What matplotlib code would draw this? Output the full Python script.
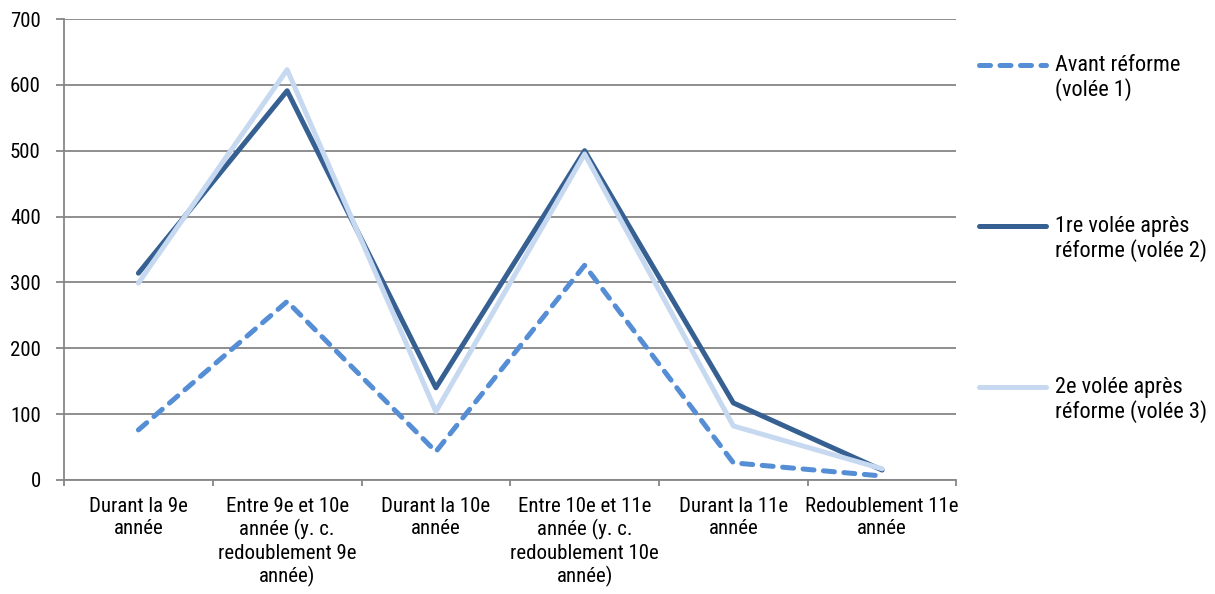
import numpy as np
import matplotlib
matplotlib.use("Agg")
import matplotlib.pyplot as plt
from matplotlib.lines import Line2D
from matplotlib import font_manager as fm

# narrow sans like Arial Narrow, take whatever is there
have = {f.name for f in fm.fontManager.ttflist}
font = 'Liberation Sans'
for cand in ['Liberation Sans Narrow', 'Arial Narrow', 'Roboto Condensed',
             'PT Sans Narrow', 'Archivo Narrow', 'Pragati Narrow']:
    if cand in have:
        font = cand
        break
plt.rcParams['font.family'] = [font, 'DejaVu Sans']

categories = ['Durant la 9e\nannée',
              'Entre 9e et 10e\nannée (y. c.\nredoublement 9e\nannée)',
              'Durant la 10e\nannée',
              'Entre 10e et 11e\nannée (y. c.\nredoublement 10e\nannée)',
              'Durant la 11e\nannée',
              'Redoublement 11e\nannée']
avant = [76, 271, 43, 326, 26, 6]
volee2 = [314, 591, 140, 500, 117, 15]
volee3 = [299, 623, 104, 495, 82, 17]
labels = ['Avant réforme\n(volée 1)',
          '1re volée après\nréforme (volée 2)',
          '2e volée après\nréforme (volée 3)']
colors = ['#558ED5', '#376092', '#C6D9F1']
dash = (0, (2.2, 1.9))

fig = plt.figure(figsize=(12.15, 5.94), dpi=100)
ax = fig.add_axes([0.0527, 0.192, 0.7345, 0.776])

xs = np.arange(len(categories))
ax.plot(xs, avant, color=colors[0], lw=3.6, ls=dash, dash_capstyle='round', zorder=3)
ax.plot(xs, volee2, color=colors[1], lw=3.6, solid_capstyle='round', zorder=4)
ax.plot(xs, volee3, color=colors[2], lw=3.6, solid_capstyle='round', zorder=5)

ax.set_xlim(-0.5, len(categories) - 0.5)
ax.set_ylim(0, 700)
ax.set_yticks(np.arange(0, 701, 100))
ax.yaxis.grid(True, color='#868686', lw=1.3)
ax.set_axisbelow(True)
for s in ['top', 'right']:
    ax.spines[s].set_visible(False)
for s in ['left', 'bottom']:
    ax.spines[s].set_color('#868686')
    ax.spines[s].set_linewidth(1.3)

ax.set_xticks(np.arange(-0.5, len(categories), 1.0))
ax.set_xticklabels([])
ax.set_xticks(xs, minor=True)
ax.set_xticklabels(categories, minor=True, fontsize=15, linespacing=1.22)
ax.tick_params(axis='x', which='major', length=4.3, color='#868686', width=1.3)
ax.tick_params(axis='x', which='minor', length=0, pad=12)
ax.tick_params(axis='y', length=5.8, color='#868686', width=1.3, labelsize=15, pad=11)

# legend on the right, handle level with first text line
y0 = 0.8906
dy = 0.271
for i, lab in enumerate(labels):
    y = y0 - i * dy
    if i == 0:
        ln = Line2D([0.806, 0.861], [y, y], transform=fig.transFigure, color=colors[i],
                    lw=3.6, ls=dash, dash_capstyle='round')
    else:
        ln = Line2D([0.806, 0.861], [y, y], transform=fig.transFigure, color=colors[i],
                    lw=3.6, solid_capstyle='round')
    fig.add_artist(ln)
    fig.text(0.868, y - 0.0135 - 0.0488 + 0.010, lab, fontsize=16, va='baseline', ha='left',
             linespacing=1.12)

fig.savefig('out.png', dpi=100)
